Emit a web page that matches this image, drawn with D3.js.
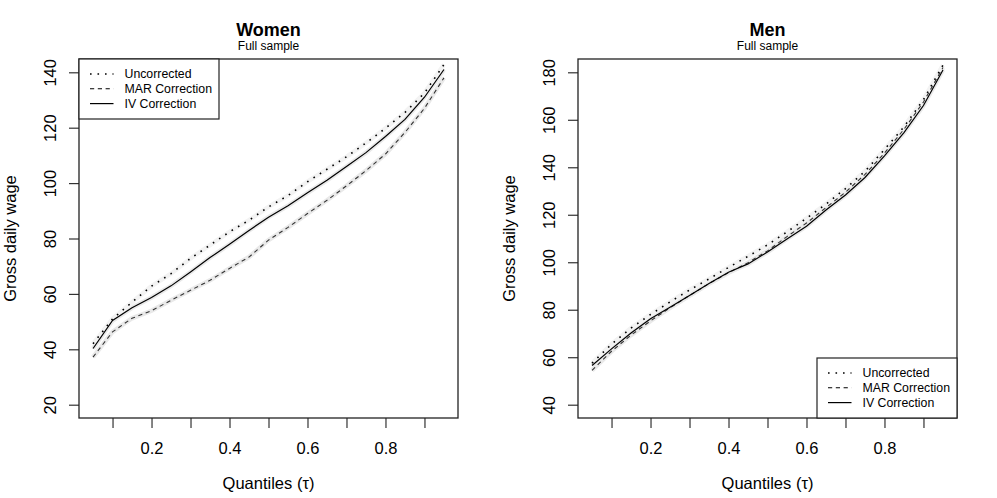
<!DOCTYPE html>
<html>
<head>
<meta charset="utf-8">
<script src="https://cdn.jsdelivr.net/npm/d3@7.9.0/dist/d3.min.js"></script>
<style>
  body { margin: 0; background: #fff; }
  svg { display: block; }
  text { font-family: "Liberation Sans", Arial, Helvetica, sans-serif; fill: #000; }
</style>
</head>
<body>
<div id="viz"></div>
<script>
// Quantiles
const tau = [0.05, 0.10, 0.15, 0.20, 0.25, 0.30, 0.35, 0.40, 0.45, 0.50,
             0.55, 0.60, 0.65, 0.70, 0.75, 0.80, 0.85, 0.90, 0.95];

// Women, full sample
const womenUncorrected = [42, 51, 57, 62.8, 67.3, 72.8, 77.6, 82.4, 86.6, 91.4,
                          95.5, 100.5, 105, 109.5, 114.5, 119.8, 125.5, 132.5, 142.8];
const womenMAR = [37.2, 46.3, 51.2, 53.9, 57.7, 61.3, 64.9, 69.2, 73.3, 79.4,
                  84, 89, 93.8, 99, 104.5, 110.5, 118.3, 127, 138];
const womenIV = [40.3, 50.4, 55, 58.7, 62.9, 67.9, 73.1, 77.9, 82.9, 87.7,
                 91.8, 96.5, 101, 106, 111, 116.8, 123, 131, 141];

// Men, full sample
const menUncorrected = [57.5, 65.5, 72.3, 78, 83.3, 88.3, 93, 97.8, 102.5, 107.3,
                        112.8, 118.5, 124.5, 131, 138.3, 147.5, 157, 168.5, 183];
const menMAR = [54.5, 62.5, 69.3, 75.3, 80.8, 86, 91, 95.6, 99.8, 104.8,
                110.8, 116.5, 123, 129.5, 137, 146, 156, 167.5, 182];
const menIV = [56.5, 63.5, 70.2, 76.2, 81, 86, 91, 95.8, 99.3, 104.3,
               109.8, 115.2, 122, 128.3, 135.7, 144.8, 154.6, 166, 181];

const legendLabels = ["Uncorrected", "MAR Correction", "IV Correction"];
const xTicks = [0.1, 0.2, 0.3, 0.4, 0.5, 0.6, 0.7, 0.8, 0.9];
const xTickLabels = ["", "0.2", "", "0.4", "", "0.6", "", "0.8", ""];
const womenYTicks = [20, 40, 60, 80, 100, 120, 140];
const menYTicks = [40, 60, 80, 100, 120, 140, 160, 180];

const W = 997, H = 498;
const boxTop = 59, boxBottom = 418, boxWidth = 379;
const axisFont = 16.5;

const svg = d3.select("#viz").append("svg")
    .attr("width", W)
    .attr("height", H);

const dotted = "1.6,5.9";
const dashed = "4.2,3.6";

// R-style 4% padding around the plotted range
function pad(lo, hi) {
  const e = (hi - lo) * 0.04;
  return [lo - e, hi + e];
}

function drawPanel(opts) {
  const left = opts.left;
  const g = svg.append("g");

  const x = d3.scaleLinear()
      .domain(pad(...d3.extent(tau)))
      .range([left, left + boxWidth]);
  const y = d3.scaleLinear()
      .domain(pad(opts.yLim[0], opts.yLim[1]))
      .range([boxBottom, boxTop]);

  const line = d3.line()
      .x((d, i) => x(tau[i]))
      .y(d => y(d));

  // faint confidence band look
  [opts.mar, opts.iv, opts.unc].forEach((s, k) => {
    g.append("path")
      .datum(s)
      .attr("fill", "none")
      .attr("stroke", k < 2 ? "#e9e9e9" : "#f3f3f3")
      .attr("stroke-width", 4.5)
      .attr("d", line);
  });

  g.append("path").datum(opts.unc)
    .attr("fill", "none").attr("stroke", "#000")
    .attr("stroke-width", 1.6).attr("stroke-dasharray", dotted)
    .attr("d", line);
  g.append("path").datum(opts.mar)
    .attr("fill", "none").attr("stroke", "#333")
    .attr("stroke-width", 1.1).attr("stroke-dasharray", dashed)
    .attr("d", line);
  g.append("path").datum(opts.iv)
    .attr("fill", "none").attr("stroke", "#000")
    .attr("stroke-width", 1.2)
    .attr("d", line);

  // x axis
  const xa = g.append("g")
    .attr("transform", "translate(0," + boxBottom + ")")
    .call(d3.axisBottom(x).tickValues(xTicks).tickSize(10)
      .tickFormat((d, i) => xTickLabels[i]));
  xa.select(".domain").remove();
  xa.attr("font-size", axisFont).attr("font-family", null);
  xa.selectAll("line").attr("stroke", "#333").attr("stroke-width", 1.2);
  xa.selectAll("text").attr("y", 36).attr("dy", 0);

  // y axis
  const ya = g.append("g")
    .attr("transform", "translate(" + left + ",0)")
    .call(d3.axisLeft(y).tickValues(opts.yTicks).tickSize(10));
  ya.select(".domain").remove();
  ya.attr("font-size", axisFont).attr("font-family", null);
  ya.selectAll("line").attr("stroke", "#333").attr("stroke-width", 1.2);
  ya.selectAll("text")
    .attr("transform", "rotate(-90)")
    .attr("x", 0).attr("y", -23).attr("dy", 0)
    .attr("text-anchor", "middle");

  // box
  g.append("rect")
    .attr("x", left).attr("y", boxTop)
    .attr("width", boxWidth).attr("height", boxBottom - boxTop)
    .attr("fill", "none").attr("stroke", "#222").attr("stroke-width", 1.3);

  const cx = left + boxWidth / 2;
  g.append("text")
    .attr("x", cx).attr("y", 35.5)
    .attr("text-anchor", "middle")
    .attr("font-size", 18).attr("font-weight", "bold")
    .text(opts.title);
  g.append("text")
    .attr("x", cx).attr("y", 50)
    .attr("text-anchor", "middle")
    .attr("font-size", 12)
    .text("Full sample");

  g.append("text")
    .attr("x", cx).attr("y", 489)
    .attr("text-anchor", "middle")
    .attr("font-size", axisFont)
    .text("Quantiles (τ)");

  g.append("text")
    .attr("transform", "translate(" + (left - 63) + "," + ((boxTop + boxBottom) / 2) + ") rotate(-90)")
    .attr("text-anchor", "middle")
    .attr("font-size", axisFont)
    .text("Gross daily wage");

  // legend
  const lg = opts.legend;
  g.append("rect")
    .attr("x", lg.x).attr("y", lg.y)
    .attr("width", lg.w).attr("height", lg.h)
    .attr("fill", "#fff").attr("stroke", "#222").attr("stroke-width", 1.2);
  const styles = [
    {dash: dotted, w: 1.6},
    {dash: dashed, w: 1.1},
    {dash: null, w: 1.2}
  ];
  legendLabels.forEach((lab, i) => {
    const ry = lg.y + 15 + i * 14.8;
    g.append("line")
      .attr("x1", lg.x + 11).attr("x2", lg.x + 34.5)
      .attr("y1", ry).attr("y2", ry)
      .attr("stroke", "#000")
      .attr("stroke-width", styles[i].w)
      .attr("stroke-dasharray", styles[i].dash);
    g.append("text")
      .attr("x", lg.x + 45.5).attr("y", ry)
      .attr("dy", "0.36em")
      .attr("font-size", 12.3)
      .text(lab);
  });
}

drawPanel({
  left: 79, title: "Women", yLim: [20, 140], yTicks: womenYTicks,
  unc: womenUncorrected, mar: womenMAR, iv: womenIV,
  legend: {x: 79, y: 59, w: 140, h: 60}
});

drawPanel({
  left: 578, title: "Men", yLim: [40, 180], yTicks: menYTicks,
  unc: menUncorrected, mar: menMAR, iv: menIV,
  legend: {x: 817, y: 358, w: 140, h: 60}
});
</script>
</body>
</html>
